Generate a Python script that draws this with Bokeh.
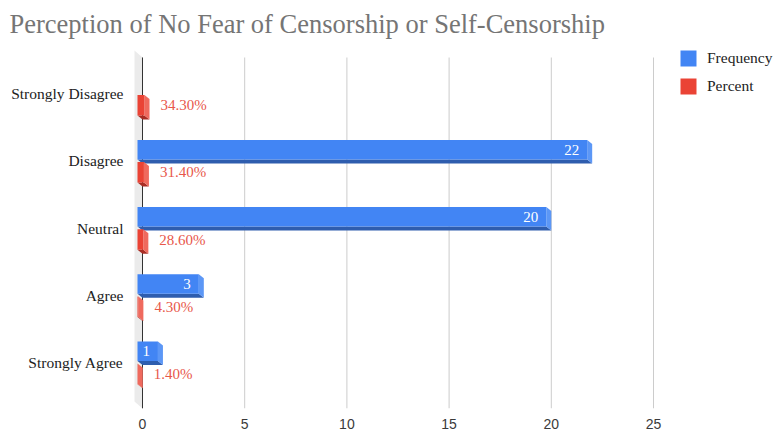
from bokeh.plotting import figure
from bokeh.models import (Range1d, FixedTicker, Legend, LegendItem)
from bokeh.core.properties import value
from bokeh.embed import file_html
from bokeh.resources import INLINE

# ---------------- data ----------------
categories = ["Strongly Disagree", "Disagree", "Neutral", "Agree", "Strongly Agree"]
frequency = [None, 22, 20, 3, 1]
percent = [0.343, 0.314, 0.286, 0.043, 0.014]
percent_labels = ["34.30%", "31.40%", "28.60%", "4.30%", "1.40%"]
x_ticks = [0, 5, 10, 15, 20, 25]
title_text = "Perception of No Fear of Censorship or Self-Censorship"
series_names = ["Frequency", "Percent"]

# ---------------- layout / style ----------------
W, H = 774, 431
FL, FT, FB = 130, 40, 408          # frame left / top / bottom (figure px)
GRID_TOP_PX = 57                   # where the plot area visually starts
FW, FH = W - FL, FB - FT
PXX = 20.44                        # px per x unit
PXY = 67.2                         # px per category
CAT0_PX = 362                      # pixel row of the lowest category
X0 = -12 / PXX
X1 = X0 + FW / PXX
Y0 = (CAT0_PX - FB) / PXY
Y1 = (CAT0_PX - FT) / PXY
GRID_TOP = (CAT0_PX - GRID_TOP_PX) / PXY

DX = 5 / PXX                       # 3D depth
DY = 4 / PXY
WALL_DX, WALL_DY = 8 / PXX, 7 / PXY

BLUE, BLUE_DARK, BLUE_SIDE = "#4285F4", "#2E5DAE", "#5C97F6"
RED, RED_DARK, RED_SIDE = "#EA4335", "#A92D24", "#EF6A5E"
SERIF = "Liberation Serif"

n = len(categories)
ypos = [n - 1 - k for k in range(n)]

p = figure(width=W, height=H, x_range=Range1d(X0, X1), y_range=Range1d(Y0, Y1),
           output_backend="svg", toolbar_location=None,
           min_border_left=FL, min_border_right=0, min_border_top=FT,
           min_border_bottom=H - FB)
p.outline_line_color = None
p.background_fill_color = "white"
p.border_fill_color = "white"

# title
p.title.text = title_text
p.title.text_font = SERIF
p.title.text_font_size = "26.5px"
p.title.text_font_style = "normal"
p.title.text_color = "#757575"
p.title.align = "left"
p.title.offset = 9 - FL
p.title.standoff = 4

# axes
p.xaxis.ticker = FixedTicker(ticks=x_ticks)
p.xgrid.visible = False
p.ygrid.visible = False
p.xaxis.axis_line_color = None
p.xaxis.major_tick_line_color = None
p.xaxis.minor_tick_line_color = None
p.xaxis.major_tick_out = 0
p.xaxis.major_tick_in = 0
p.xaxis.major_label_text_font = "Liberation Sans"
p.xaxis.major_label_text_font_size = "14px"
p.xaxis.major_label_text_color = "#3a3a3a"
p.xaxis.major_label_standoff = 10

p.yaxis.ticker = FixedTicker(ticks=ypos)
p.yaxis.major_label_overrides = {y: c for y, c in zip(ypos, categories)}
p.yaxis.axis_line_color = None
p.yaxis.major_tick_line_color = None
p.yaxis.minor_tick_line_color = None
p.yaxis.major_tick_out = 0
p.yaxis.major_tick_in = 0
p.yaxis.major_label_text_font = SERIF
p.yaxis.major_label_text_font_size = "15.5px"
p.yaxis.major_label_text_color = "#222222"
p.yaxis.major_label_standoff = 7

# vertical grid lines at the tick values
p.segment(x0=x_ticks, y0=[Y0] * len(x_ticks), x1=x_ticks, y1=[GRID_TOP] * len(x_ticks),
          line_color="#cccccc", line_width=1)

# wall + zero line
p.patch(x=[-WALL_DX, 0, 0, -WALL_DX],
        y=[GRID_TOP + WALL_DY, GRID_TOP, Y0, Y0 + WALL_DY],
        fill_color="#ebebeb", line_color=None)
p.segment(x0=[0], y0=[Y0], x1=[0], y1=[GRID_TOP], line_color="#333333", line_width=1)


def bar_geometry(vals, ys, top_off, bot_off):
    L, R, T, B = [], [], [], []
    for v, y in zip(vals, ys):
        L.append(-DX)
        R.append(v - DX)
        T.append(y + top_off)
        B.append(y + bot_off)
    bottom_xs = [[l, r, r + DX, l + DX] for l, r in zip(L, R)]
    bottom_ys = [[b, b, b - DY, b - DY] for b in B]
    side_xs = [[r, r + DX, r + DX, r] for r in R]
    side_ys = [[t, t - DY, b - DY, b] for t, b in zip(T, B)]
    return L, R, T, B, bottom_xs, bottom_ys, side_xs, side_ys


# blue (frequency) rows that exist
fv = [f for f in frequency if f is not None]
fy = [y for f, y in zip(frequency, ypos) if f is not None]
bL, bR, bT, bB, bbx, bby, bsx, bsy = bar_geometry(fv, fy, 21 / PXY, 1.5 / PXY)
rL, rR, rT, rB, rbx, rby, rsx, rsy = bar_geometry(percent, ypos, -1.2 / PXY, -21.7 / PXY)

# red labels (under blue bars)
p.text(x=[v + 11 / PXX for v in percent], y=[(t + b) / 2 for t, b in zip(rT, rB)],
       text=percent_labels, text_align="left", text_baseline="middle",
       text_font=value(SERIF), text_font_size="15px", text_color="#E8574B")

# blue bars
p.patches(xs=bbx, ys=bby, fill_color=BLUE_DARK, line_color=None)
p.patches(xs=bsx, ys=bsy, fill_color=BLUE_SIDE, line_color=None)
blue_front = p.quad(left=bL, right=bR, top=bT, bottom=bB, fill_color=BLUE, line_color=None)
p.text(x=[v - 13 / PXX for v in fv], y=[(t + b) / 2 for t, b in zip(bT, bB)],
       text=[str(v) for v in fv], text_align="right", text_baseline="middle",
       text_font=value(SERIF), text_font_size="15px", text_color="white")

# red bars
p.patches(xs=rbx, ys=rby, fill_color=RED_DARK, line_color=None)
p.patches(xs=rsx, ys=rsy, fill_color=RED_SIDE, line_color=None)
red_front = p.quad(left=rL, right=rR, top=rT, bottom=rB, fill_color=RED, line_color=None)

legend = Legend(items=[LegendItem(label=series_names[0], renderers=[blue_front]),
                       LegendItem(label=series_names[1], renderers=[red_front])],
                location=(548, 312))
legend.glyph_width = 20
legend.glyph_height = 20
legend.label_standoff = 9
legend.spacing = 8
legend.padding = 10
legend.border_line_color = None
legend.background_fill_alpha = 0
legend.label_text_font = SERIF
legend.label_text_font_size = "15.5px"
legend.label_text_color = "#222222"
p.add_layout(legend)

open("out.html", "w").write(file_html(p, INLINE))
